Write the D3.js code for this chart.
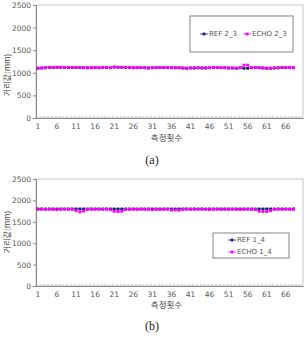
<!DOCTYPE html>
<html><head><meta charset="utf-8">
<script src="https://cdn.jsdelivr.net/npm/d3@7"></script>
<style>body{margin:0;background:#fff}svg{display:block}</style>
</head><body>
<script>
// ---- data ----
const categories = d3.range(1, 71);           // axis categories
const xTickLabels = [1,6,11,16,21,26,31,36,41,46,51,56,61,66];
const yTicks = [0,500,1000,1500,2000,2500];

const refA = [1100,1105,1110,1115,1115,1120,1120,1115,1115,1115,1115,1115,1110,1110,1110,1115,1110,1115,1115,1110,1125,1120,1120,1115,1115,1110,1110,1115,1110,1105,1110,1115,1115,1115,1115,1110,1110,1110,1105,1100,1105,1105,1110,1105,1105,1110,1115,1115,1110,1110,1105,1105,1100,1110,1100,1100,1110,1115,1110,1105,1100,1100,1105,1110,1115,1115,1115,1110];
const echoA = [1105,1110,1115,1120,1120,1125,1125,1120,1120,1120,1120,1120,1115,1115,1115,1120,1115,1120,1120,1115,1130,1125,1125,1120,1120,1115,1115,1120,1115,1110,1115,1120,1120,1120,1120,1115,1115,1115,1110,1105,1110,1110,1115,1110,1110,1115,1120,1120,1115,1115,1110,1110,1105,1115,1170,1170,1115,1120,1115,1110,1105,1105,1110,1115,1120,1120,1120,1115];
const refB = [1800,1800,1800,1800,1800,1800,1800,1800,1800,1800,1800,1800,1800,1800,1800,1800,1800,1800,1800,1800,1800,1800,1800,1800,1800,1800,1800,1800,1800,1800,1800,1800,1800,1800,1800,1800,1800,1800,1800,1800,1800,1800,1800,1800,1800,1800,1800,1800,1800,1800,1800,1800,1800,1800,1800,1800,1800,1800,1800,1800,1800,1800,1800,1800,1800,1800,1800,1800];
const echoB = [1790,1795,1790,1795,1790,1780,1790,1795,1790,1795,1760,1730,1750,1790,1795,1790,1795,1790,1795,1780,1745,1740,1745,1785,1790,1795,1790,1795,1790,1795,1780,1790,1785,1790,1795,1770,1775,1770,1790,1795,1790,1795,1790,1795,1790,1785,1790,1795,1790,1795,1790,1795,1790,1785,1790,1795,1790,1785,1745,1740,1740,1760,1790,1795,1790,1795,1790,1795];

const panels = [
  {top:5, bottom:118, ref:refA, echo:echoA, names:["REF 2_3","ECHO 2_3"], caption:"(a)", capY:164, titleY:141, ylabY:75,
   legend:{x:190,y:16,w:103,h:36, horiz:true}},
  {top:179, bottom:286, ref:refB, echo:echoB, names:["REF 1_4","ECHO 1_4"], caption:"(b)", capY:330, titleY:308, ylabY:232,
   legend:{x:213,y:233,w:76,h:25, horiz:false}}
];

const REF_C = "#1a1a80", ECHO_C = "#ff00ff", AX = "#888";
const svg = d3.select("body").append("svg").attr("width",304).attr("height",340)
  .style("font-family","'Noto Sans CJK KR', 'DejaVu Sans', sans-serif");

const left = 36, right = 303;

panels.forEach(p => {
  const g = svg.append("g");
  const x = d3.scaleBand().domain(categories).range([left, right]);
  const y = d3.scaleLinear().domain([0,2500]).range([p.bottom, p.top]);
  const cx = i => x(i+1) + x.bandwidth()/2;

  // plot border
  g.append("rect").attr("x",left).attr("y",p.top).attr("width",right-left).attr("height",p.bottom-p.top)
    .attr("fill","none").attr("stroke","#bbb").attr("stroke-width",0.8);

  // y axis
  const ya = g.append("g").attr("transform",`translate(${left},0)`)
    .call(d3.axisLeft(y).tickValues(yTicks).tickFormat(d3.format("d")).tickSize(3).tickPadding(2));
  ya.select(".domain").attr("stroke",AX);
  ya.selectAll(".tick line").attr("stroke",AX);
  ya.selectAll("text").attr("fill","#555").style("font-size","7.5px").style("font-family","'DejaVu Sans', sans-serif");

  // x axis
  const xa = g.append("g").attr("transform",`translate(0,${p.bottom})`)
    .call(d3.axisBottom(x).tickValues(xTickLabels).tickSize(0).tickPadding(6));
  xa.select(".domain").attr("stroke",AX);
  xa.selectAll("text").attr("fill","#555").style("font-size","7.5px").style("font-family","'DejaVu Sans', sans-serif");
  // category boundary tick marks
  g.append("g").selectAll("line").data(categories).join("line")
    .attr("x1",d=>x(d)).attr("x2",d=>x(d)+1.5)
    .attr("y1",p.bottom-1).attr("y2",p.bottom-1)
    .attr("stroke","#999").attr("stroke-width",0.8);

  // lines & markers
  const line = d3.line().x((d,i)=>cx(i)).y(d=>y(d));
  [[p.ref,REF_C],[p.echo,ECHO_C]].forEach(([data,c]) => {
    g.append("path").datum(data).attr("d",line).attr("fill","none").attr("stroke",c).attr("stroke-width",0.8);
    g.append("g").selectAll("rect").data(data).join("rect")
      .attr("x",(d,i)=>cx(i)-1.4).attr("y",d=>y(d)-1.4).attr("width",2.8).attr("height",2.8).attr("fill",c);
  });

  // y axis label
  g.append("text").attr("transform",`translate(8,${p.ylabY}) rotate(-90)`)
    .attr("text-anchor","middle").attr("dominant-baseline","middle")
    .attr("fill","#444").style("font-size","8px").text("거리값(mm)");
  // x axis title
  g.append("text").attr("x",(left+right)/2-3).attr("y",p.titleY).attr("text-anchor","middle")
    .attr("fill","#444").style("font-size","8.5px").text("측정횟수");
  // caption
  g.append("text").attr("x",152).attr("y",p.capY).attr("text-anchor","middle")
    .style("font-family","'Liberation Serif', serif").style("font-size","12px").attr("fill","#222").text(p.caption);

  // legend
  const L = p.legend;
  g.append("rect").attr("x",L.x).attr("y",L.y).attr("width",L.w).attr("height",L.h)
    .attr("fill","#fff").attr("stroke","#666").attr("stroke-width",0.8);
  const items = L.horiz
    ? [{x:200, y:L.y+L.h/2, c:REF_C, t:p.names[0]},{x:243, y:L.y+L.h/2, c:ECHO_C, t:p.names[1]}]
    : [{x:L.x+15, y:L.y+7, c:REF_C, t:p.names[0]},{x:L.x+15, y:L.y+19, c:ECHO_C, t:p.names[1]}];
  items.forEach(it => {
    g.append("line").attr("x1",it.x).attr("x2",it.x+8).attr("y1",it.y).attr("y2",it.y).attr("stroke",it.c).attr("stroke-width",0.8);
    g.append("rect").attr("x",it.x+2.6).attr("y",it.y-1.4).attr("width",2.8).attr("height",2.8).attr("fill",it.c);
    g.append("text").attr("x",it.x+9).attr("y",it.y).attr("dominant-baseline","middle")
      .attr("fill","#555").style("font-size","7px").style("font-family","'DejaVu Sans', sans-serif").text(it.t);
  });
});
</script>
</body></html>
